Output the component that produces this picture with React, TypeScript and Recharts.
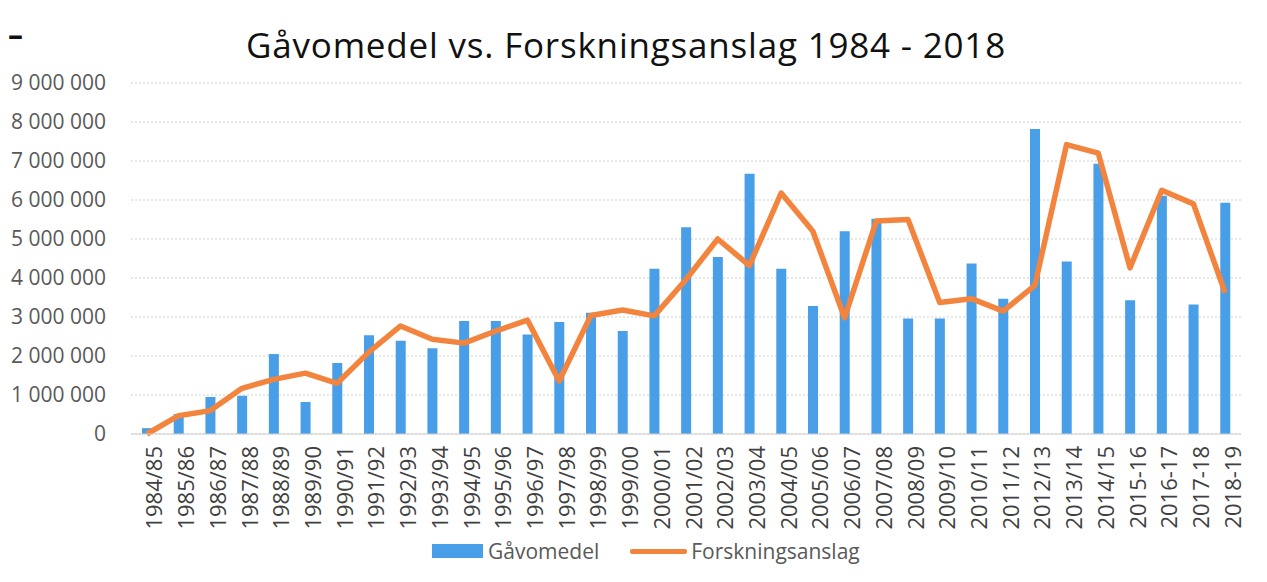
import React from 'react';
import {
  ComposedChart,
  Bar,
  Line,
  XAxis,
  YAxis,
  CartesianGrid,
  Legend,
} from 'recharts';

// values (SEK)
const years = [
  '1984/85', '1985/86', '1986/87', '1987/88', '1988/89', '1989/90', '1990/91',
  '1991/92', '1992/93', '1993/94', '1994/95', '1995/96', '1996/97', '1997/98',
  '1998/99', '1999/00', '2000/01', '2001/02', '2002/03', '2003/04', '2004/05',
  '2005/06', '2006/07', '2007/08', '2008/09', '2009/10', '2010/11', '2011/12',
  '2012/13', '2013/14', '2014/15', '2015-16', '2016-17', '2017-18', '2018-19',
];

const gavomedel = [
  150000, 510000, 950000, 980000, 2050000, 820000, 1820000,
  2530000, 2390000, 2200000, 2900000, 2900000, 2550000, 2870000,
  3110000, 2640000, 4240000, 5300000, 4540000, 6670000, 4240000,
  3280000, 5200000, 5520000, 2960000, 2960000, 4370000, 3470000,
  7820000, 4420000, 6930000, 3430000, 6110000, 3320000, 5930000,
];

const forskningsanslag = [
  0, 470000, 600000, 1170000, 1400000, 1560000, 1300000,
  2100000, 2770000, 2430000, 2330000, 2640000, 2920000, 1360000,
  3040000, 3180000, 3030000, 3960000, 5000000, 4320000, 6180000,
  5200000, 2980000, 5460000, 5500000, 3370000, 3470000, 3150000,
  3810000, 7420000, 7200000, 4260000, 6250000, 5900000, 3620000,
];

const yTicks = [0, 1000000, 2000000, 3000000, 4000000, 5000000, 6000000, 7000000, 8000000, 9000000];

const data = years.map((year, i) => ({
  year,
  gavomedel: gavomedel[i],
  forskningsanslag: forskningsanslag[i],
}));

const FONT = '"Open Sans", "DejaVu Sans", sans-serif';
const BLUE = '#489fe8';
const ORANGE = '#f3843e';
const legendOrder = ['Gåvomedel', 'Forskningsanslag'];

const fmt = (v: number) => String(v).replace(/\B(?=(\d{3})+(?!\d))/g, ' ');

function LegendContent({ payload }: any) {
  const items = [...(payload || [])].sort(
    (a: any, b: any) => legendOrder.indexOf(a.value) - legendOrder.indexOf(b.value)
  );
  return (
    <div style={{ display: 'flex', alignItems: 'center', paddingLeft: 432, height: 26, fontFamily: FONT, fontSize: 21, color: '#595959' }}>
      {items.map((p: any) => (
        <span key={p.value} style={{ display: 'flex', alignItems: 'center', marginRight: 31 }}>
          {p.type === 'rect' ? (
            <span style={{ display: 'inline-block', width: 51, height: 14, background: p.color, marginRight: 5 }} />
          ) : (
            <span style={{ display: 'inline-block', width: 57, height: 5, borderRadius: 2, background: p.color, marginRight: 4 }} />
          )}
          {p.value}
        </span>
      ))}
    </div>
  );
}

export default function App() {
  return (
    <div style={{ position: 'absolute', left: 0, top: 0, width: 1267, height: 582, background: '#fff' }}>
      <div style={{ position: 'absolute', left: 8, top: 14, fontFamily: FONT, fontSize: 30, fontWeight: 700, color: '#111' }}>–</div>
      <div
        style={{
          position: 'absolute',
          left: 0,
          top: 21,
          width: 1252,
          textAlign: 'center',
          fontFamily: FONT,
          fontSize: 35,
          letterSpacing: 0.8,
          color: '#111',
        }}
      >
        Gåvomedel vs. Forskningsanslag 1984 - 2018
      </div>
      <ComposedChart
        width={1267}
        height={582}
        data={data}
        margin={{ top: 83, right: 26, left: 0, bottom: 18 }}
        barSize={10}
      >
        <CartesianGrid vertical={false} stroke="#cfcfcf" strokeDasharray="2 2" />
        <XAxis
          dataKey="year"
          interval={0}
          angle={-90}
          textAnchor="end"
          height={104}
          tickLine={false}
          axisLine={{ stroke: '#cfcfcf' }}
          tick={{ fill: '#404040', fontSize: 22, fontFamily: FONT }}
          tickMargin={6}
        />
        <YAxis
          width={131}
          domain={[0, 9000000]}
          ticks={yTicks}
          interval={0}
          tickFormatter={fmt}
          tickLine={false}
          axisLine={false}
          tickMargin={19}
          tick={{ fill: '#595959', fontSize: 21, fontFamily: FONT }}
        />
        <Legend verticalAlign="bottom" content={<LegendContent />} />
        <Bar dataKey="gavomedel" name="Gåvomedel" fill={BLUE} legendType="rect" isAnimationActive={false} />
        <Line
          dataKey="forskningsanslag"
          name="Forskningsanslag"
          type="linear"
          stroke={ORANGE}
          strokeWidth={5.5}
          strokeLinejoin="round"
          dot={false}
          legendType="plainline"
          isAnimationActive={false}
        />
      </ComposedChart>
    </div>
  );
}
